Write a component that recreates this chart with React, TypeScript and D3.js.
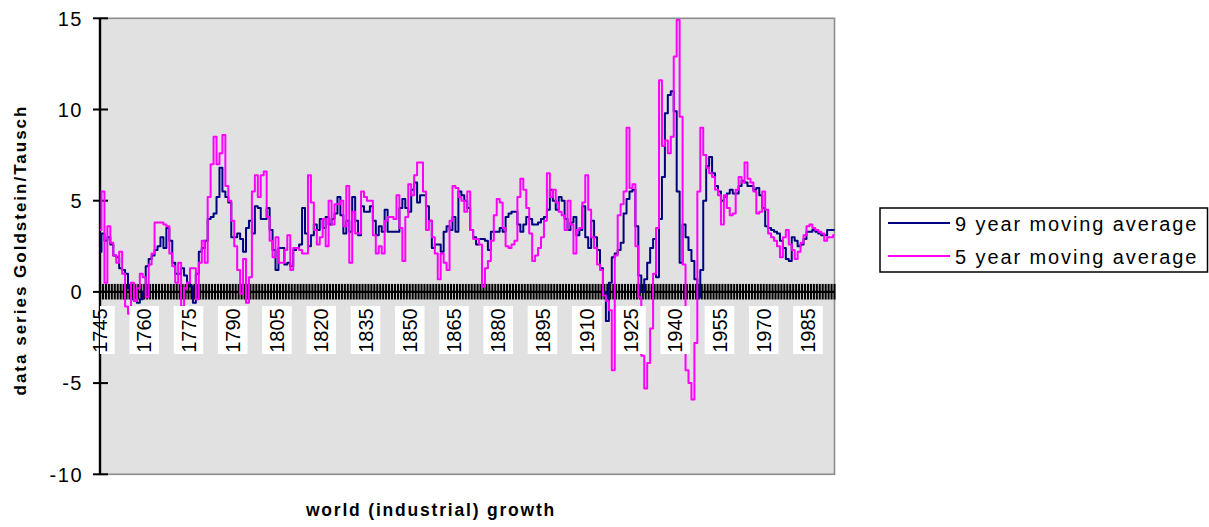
import React from 'react';
import * as d3 from 'd3';

const YEARS: number[] = d3.range(1745, 1995);
const TICK_LABELS: string[] = ['1745', '1760', '1775', '1790', '1805', '1820', '1835', '1850', '1865', '1880', '1895', '1910', '1925', '1940', '1955', '1970', '1985'];
const Y_TICKS: number[] = [15, 10, 5, 0, -5, -10];
const SERIES_NAMES: string[] = ['9 year moving average', '5 year moving average'];
const SERIES_COLORS: string[] = ['#000080', '#ff00ff'];

const NINE_YEAR: number[] = [
  2.2, 3.2, 2.8, 3.0, 2.6, 2.0, 1.9, 1.3, 1.2, 1.0,
  0.2, -0.4, -0.5, -0.6, -0.4, 0.0, 1.4, 1.8, 2.0, 2.3,
  2.5, 3.0, 2.4, 3.5, 2.8, 1.6, 1.0, 1.0, 1.3, 0.9,
  0.5, 0.3, -0.6, 1.0, 2.2, 2.4, 2.8, 4.0, 4.1, 4.3,
  5.2, 6.8, 5.5, 5.2, 4.9, 3.0, 3.0, 3.2, 2.9, 2.2,
  3.5, 3.9, 3.2, 4.7, 4.6, 4.0, 4.0, 4.6, 3.4, 2.3,
  1.2, 2.4, 2.4, 1.5, 1.6, 1.4, 2.3, 2.4, 2.6, 4.6,
  3.2, 2.5, 3.1, 3.7, 3.4, 4.0, 3.5, 4.1, 3.7, 4.0,
  4.3, 5.2, 4.2, 3.2, 3.9, 3.3, 5.2, 3.9, 3.1, 4.7,
  4.4, 4.4, 4.7, 3.9, 3.1, 3.6, 3.3, 4.5, 3.3, 3.3,
  3.3, 3.3, 4.6, 5.1, 4.6, 4.4, 5.6, 6.0, 4.9, 5.3,
  5.3, 4.7, 3.9, 2.4, 2.6, 2.6, 2.2, 3.3, 3.6, 3.4,
  4.1, 3.3, 5.5, 5.3, 5.0, 4.6, 3.4, 3.0, 2.6, 2.9,
  2.9, 2.8, 2.3, 3.3, 3.3, 3.3, 3.5, 3.3, 4.1, 4.3,
  4.4, 4.4, 3.7, 3.3, 3.7, 4.1, 4.0, 3.7, 3.7, 3.8,
  4.0, 4.1, 4.5, 5.6, 5.0, 4.5, 5.2, 5.0, 4.0, 3.4,
  3.8, 4.1, 3.1, 3.4, 4.7, 3.0, 2.4, 3.9, 3.0, 2.3,
  1.3, 0.0, -1.6, 0.5, 1.9, 2.1, 2.3, 2.7, 4.3, 5.1,
  5.5, 5.6, 3.6, 0.9, 0.0, 0.7, 1.6, 2.4, 2.9, 0.8,
  4.0, 6.3, 9.8, 10.8, 11.0, 9.9, 5.5, 1.6, 3.7, 3.0,
  2.3, 1.7, 0.7, -0.3, 1.2, 5.0, 6.9, 7.4, 6.5, 5.8,
  5.5, 5.0, 5.2, 5.4, 5.6, 5.4, 5.4, 5.8, 6.1, 6.0,
  5.8, 5.8, 5.6, 5.7, 5.3, 4.6, 3.6, 3.5, 3.4, 3.3,
  3.2, 2.8, 2.4, 1.8, 1.7, 3.0, 2.8, 2.5, 2.6, 2.9,
  3.3, 3.3, 3.4, 3.3, 3.2, 3.1, 3.1, 3.4, 3.4, 3.4,
];

const FIVE_YEAR: number[] = [
  3.4, 5.5, 0.5, 3.6, 2.7, 2.0, 1.6, 2.2, 1.0, -0.8,
  -1.2, 0.5, -0.5, 0.2, 1.0, 0.8, -0.3, 1.5, 2.1, 3.8,
  3.8, 3.8, 3.7, 3.6, 2.1, 1.4, 0.5, 1.6, -0.8, 0.2,
  0.5, 1.3, 1.3, -0.4, 1.6, 2.8, 1.6, 5.2, 7.0, 8.5,
  7.0, 7.6, 8.6, 5.8, 5.0, 3.9, 2.5, 1.2, -0.1, 1.8,
  -0.6, 0.8, 5.5, 6.4, 5.2, 6.4, 6.6, 4.1, 2.8, 1.9,
  3.0, 1.6, 1.6, 2.3, 3.1, 1.2, 2.4, 2.4, 2.3, 2.1,
  2.1, 6.4, 4.9, 3.4, 2.6, 3.0, 4.0, 2.5, 5.0, 3.7,
  4.8, 4.8, 5.0, 3.6, 5.8, 1.6, 4.4, 3.2, 3.2, 5.5,
  5.2, 5.0, 5.0, 3.1, 2.1, 2.5, 2.1, 3.9, 4.1, 4.1,
  4.0, 5.3, 3.5, 1.7, 4.1, 5.9, 5.3, 6.4, 7.1, 7.1,
  5.5, 3.4, 3.9, 3.0, 2.1, 0.7, 2.1, 1.6, 1.2, 3.9,
  5.8, 5.7, 5.2, 5.0, 4.4, 5.5, 3.4, 2.9, 2.9, 2.6,
  0.3, 1.3, 1.7, 2.8, 4.2, 5.1, 4.9, 3.5, 2.5, 2.4,
  2.6, 2.8, 5.2, 6.2, 5.6, 4.6, 3.2, 1.7, 2.0, 2.4,
  3.0, 3.9, 6.5, 5.2, 5.6, 4.9, 4.4, 4.2, 3.4, 5.0,
  3.7, 2.1, 3.4, 3.5, 4.9, 6.4, 4.5, 3.0, 2.4, 1.5,
  1.2, -0.2, -0.5, -1.0, -4.3, 2.0, 4.2, 4.8, 5.5, 9.0,
  5.7, 5.9, 2.5, -0.3, -3.5, -5.3, -3.9, -2.0, 1.0, 3.5,
  11.6, 8.0, 8.3, 7.6, 8.5, 12.9, 14.9, 9.6, 1.5, -4.3,
  -5.0, -5.9, -2.8, 5.5, 9.0, 7.5, 6.8, 6.5, 6.3, 5.6,
  5.3, 3.7, 5.3, 4.6, 4.2, 4.3, 5.6, 6.3, 6.0, 7.1,
  6.2, 6.0, 5.5, 4.3, 4.4, 5.5, 4.5, 3.2, 3.0, 2.8,
  2.5, 1.9, 3.0, 3.4, 2.6, 2.3, 1.8, 2.2, 2.7, 3.1,
  3.6, 3.7, 3.5, 3.4, 3.3, 3.2, 2.8, 3.0, 3.0, 3.1,
];

const SERIES: number[][] = [NINE_YEAR, FIVE_YEAR];

export default function App() {
  const W = 1209;
  const H = 527;
  const left = 100;
  const right = 834.5;
  const top = 18.3;
  const bottom = 474.3;
  const font = "Arial, 'Liberation Sans', Helvetica, sans-serif";

  const x = d3.scalePoint<number>().domain(YEARS).range([left, right]);
  const y = d3.scaleLinear().domain([-10, 15]).range([bottom, top]);
  const y0 = y(0);
  const line = d3
    .line<number>()
    .x((_, i) => x(YEARS[i]) as number)
    .y((d) => y(d))
    .curve(d3.curveStep);

  return (
    <svg
      width={W}
      height={H}
      style={{ position: 'absolute', left: 0, top: 0, background: '#ffffff' }}
      fontFamily={font}
    >
      <defs>
        <clipPath id="plotClip">
          <rect x={left} y={0} width={right - left} height={H} />
        </clipPath>
      </defs>
      <rect x={0} y={0} width={W} height={H} fill="#ffffff" />
      <rect
        x={left}
        y={top}
        width={right - left}
        height={bottom - top}
        fill="#e1e1e1"
        stroke="#8c8c8c"
        strokeWidth={1.6}
      />
      {/* category axis at zero */}
      {YEARS.map((yr) => (
        <line
          key={'t' + yr}
          x1={x(yr)}
          x2={x(yr)}
          y1={y0 - 8}
          y2={y0 + 7.6}
          stroke="#000"
          strokeWidth={2.1}
        />
      ))}
      <line x1={left} x2={right} y1={y0} y2={y0} stroke="#000" strokeWidth={2.4} />
      {/* value axis */}
      <line x1={left} x2={left} y1={top} y2={bottom} stroke="#000" strokeWidth={2.4} />
      {Y_TICKS.map((t) => (
        <g key={'y' + t}>
          <line x1={93} x2={108} y1={y(t)} y2={y(t)} stroke="#000" strokeWidth={2} />
          <text
            x={83}
            y={y(t)}
            dy="0.36em"
            textAnchor="end"
            fontSize={20}
            letterSpacing={1.5}
            fill="#000"
          >
            {t}
          </text>
        </g>
      ))}
      {/* series */}
      {SERIES.map((s, i) => (
        <path
          key={'s' + i}
          d={line(s) || ''}
          fill="none"
          stroke={SERIES_COLORS[i]}
          strokeWidth={2}
          strokeLinejoin="round"
        />
      ))}
      {/* category labels */}
      <g clipPath="url(#plotClip)">
        {TICK_LABELS.map((l) => (
          <rect
            key={'b' + l}
            x={(x(+l) as number) - 14.8}
            y={306}
            width={29.6}
            height={48}
            fill="#ffffff"
          />
        ))}
      </g>
      {TICK_LABELS.map((l) => (
        <text
          key={'l' + l}
          transform={`translate(${x(+l)},330.5) rotate(-90)`}
          textAnchor="middle"
          dy="0.36em"
          fontSize={20}
          fill="#000"
        >
          {l}
        </text>
      ))}
      {/* axis titles */}
      <text
        transform="translate(19.5,250) rotate(-90)"
        textAnchor="middle"
        dy="0.36em"
        fontSize={17}
        fontWeight="bold"
        letterSpacing={2}
        fill="#000"
      >
        data series Goldstein/Tausch
      </text>
      <text
        x={431}
        y={516}
        textAnchor="middle"
        fontSize={17.5}
        fontWeight="bold"
        letterSpacing={1.8}
        fill="#000"
      >
        world (industrial) growth
      </text>
      {/* legend */}
      <rect x={880} y={208} width={327.5} height={64} fill="#ffffff" stroke="#000" strokeWidth={1.5} />
      {SERIES_NAMES.map((name, i) => (
        <g key={'lg' + i}>
          <line
            x1={888}
            x2={950}
            y1={223 + i * 33}
            y2={223 + i * 33}
            stroke={SERIES_COLORS[i]}
            strokeWidth={2}
          />
          <text x={955} y={231 + i * 33} fontSize={20} letterSpacing={1.9} fill="#000">
            {name}
          </text>
        </g>
      ))}
    </svg>
  );
}
